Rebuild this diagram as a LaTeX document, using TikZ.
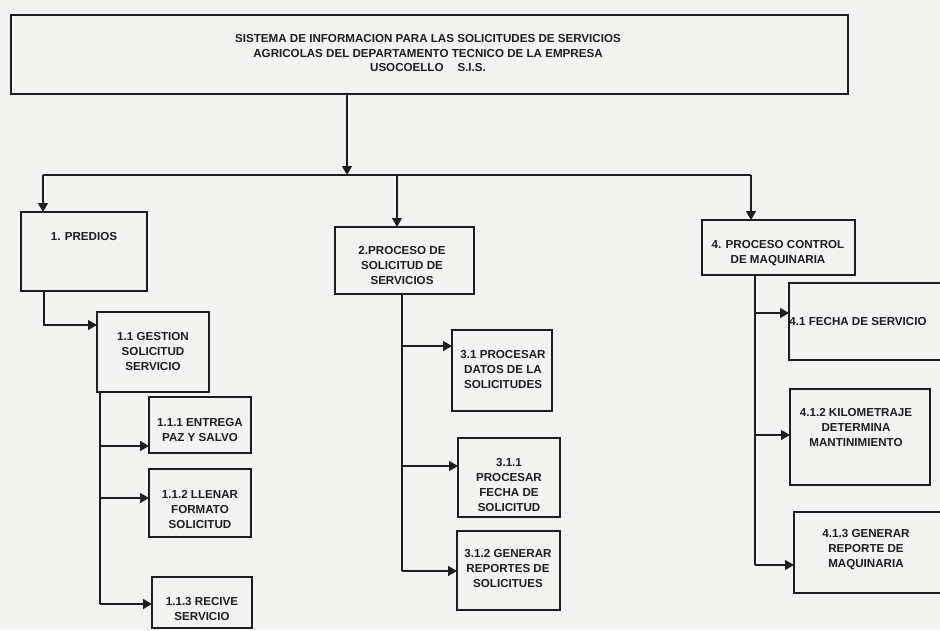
\documentclass[tikz,border=0pt]{standalone}
\usepackage{fontspec}
\setmainfont{Liberation Sans}
\usetikzlibrary{arrows.meta}
\definecolor{paper}{RGB}{243,243,241}
\definecolor{ink}{RGB}{30,30,30}
\tikzset{
  box/.style={draw=ink, line width=1.3pt, inner sep=0pt, outer sep=0pt},
  lbl/.style={text=ink, font=\bfseries\fontsize{11.6}{15}\selectfont, align=center, inner sep=0pt},
  ttl/.style={text=ink, font=\bfseries\fontsize{11.6}{14.5}\selectfont, align=center, inner sep=0pt},
  wire/.style={draw=ink, line width=1.3pt},
  arr/.style={wire, -{Triangle[length=9pt,width=10pt]}}
}
\begin{document}
\begin{tikzpicture}[x=1pt,y=-1pt]
\path[use as bounding box, fill=paper] (0,0) rectangle (940,630);
\clip (0,0) rectangle (940,630);

% boxes
\node[box, anchor=north west, minimum width=837pt, minimum height=79pt] (top) at (11,15) {};
\node[box, anchor=north west, minimum width=126pt, minimum height=79pt] (predios) at (21,212) {};
\node[box, anchor=north west, minimum width=112pt, minimum height=80pt] (g11) at (97,312) {};
\node[box, anchor=north west, minimum width=102pt, minimum height=56pt] (g111) at (149,397) {};
\node[box, anchor=north west, minimum width=102pt, minimum height=68pt] (g112) at (149,469) {};
\node[box, anchor=north west, minimum width=100pt, minimum height=51pt] (g113) at (152,577) {};
\node[box, anchor=north west, minimum width=139pt, minimum height=67pt] (p2) at (335,227) {};
\node[box, anchor=north west, minimum width=100pt, minimum height=81pt] (p31) at (452,330) {};
\node[box, anchor=north west, minimum width=102pt, minimum height=79pt] (p311) at (458,438) {};
\node[box, anchor=north west, minimum width=103pt, minimum height=79pt] (p312) at (457,531) {};
\node[box, anchor=north west, minimum width=153pt, minimum height=55pt] (p4) at (702,220) {};
\node[box, anchor=north west, minimum width=160pt, minimum height=77pt] (p41) at (789,283) {};
\node[box, anchor=north west, minimum width=140pt, minimum height=96pt] (p412) at (790,389) {};
\node[box, anchor=north west, minimum width=160pt, minimum height=81pt] (p413) at (794,512) {};

% texts
\node[ttl] (topt) at (428,53.5) {SISTEMA DE INFORMACION PARA LAS SOLICITUDES DE SERVICIOS\\AGRICOLAS DEL DEPARTAMENTO TECNICO DE LA EMPRESA\\USOCOELLO\hspace{1.2em}S.I.S.};
\node[lbl] (prediost) at (84,236) {1. PREDIOS};
\node[lbl] (g11t) at (153,351) {1.1 GESTION\\SOLICITUD\\SERVICIO};
\node[lbl] (g111t) at (200,429.5) {1.1.1 ENTREGA\\PAZ Y SALVO};
\node[lbl] (g112t) at (200,509) {1.1.2 LLENAR\\FORMATO\\SOLICITUD};
\node[lbl] (g113t) at (202,608.5) {1.1.3 RECIVE\\SERVICIO};
\node[lbl] (p2t) at (402,265.5) {2.PROCESO DE\\SOLICITUD DE\\SERVICIOS};
\node[lbl] (p31t) at (503,369) {3.1 PROCESAR\\DATOS DE LA\\SOLICITUDES};
\node[lbl] (p311t) at (509,484.5) {3.1.1\\PROCESAR\\FECHA DE\\SOLICITUD};
\node[lbl] (p312t) at (508,568.5) {3.1.2 GENERAR\\REPORTES DE\\SOLICITUES};
\node[lbl] (p4t) at (778,253.5) {4. PROCESO CONTROL\\DE MAQUINARIA};
\node[lbl] (p41t) at (858,321) {4.1 FECHA DE SERVICIO};
\node[lbl] (p412t) at (856,427) {4.1.2 KILOMETRAJE\\DETERMINA\\MANTINIMIENTO};
\node[lbl] (p413t) at (866,550) {4.1.3 GENERAR\\REPORTE DE\\MAQUINARIA};

% main bus
\coordinate (bL) at (43,175);
\coordinate (bM) at (347,175);
\coordinate (b2) at (397,175);
\coordinate (bR) at (751,175);
\draw[wire] (bL) -- (bR);
\draw[arr] (bM |- top.south) -- (bM);
\draw[arr] (bL) -- (bL |- predios.north);
\draw[arr] (b2) -- (b2 |- p2.north);
\draw[arr] (bR) -- (bR |- p4.north);

% predios -> 1.1
\coordinate (s1) at (44,325);
\draw[arr] (s1 |- predios.south) -- (s1) -- (s1 -| g11.west);

% 1.1 spine
\coordinate (t1) at (100,604);
\coordinate (a111) at (149,446);
\coordinate (a112) at (149,498);
\coordinate (a113) at (152,604);
\draw[wire] (t1 |- g11.south) -- (t1);
\draw[arr] (a111 -| t1) -- (a111);
\draw[arr] (a112 -| t1) -- (a112);
\draw[arr] (t1) -- (a113);

% 2 spine
\coordinate (t2) at (402,571);
\coordinate (a31) at (452,346);
\coordinate (a311) at (458,466);
\coordinate (a312) at (457,571);
\draw[wire] (t2 |- p2.south) -- (t2);
\draw[arr] (a31 -| t2) -- (a31);
\draw[arr] (a311 -| t2) -- (a311);
\draw[arr] (t2) -- (a312);

% 4 spine
\coordinate (t4) at (755,565);
\coordinate (a41) at (789,313);
\coordinate (a412) at (790,435);
\coordinate (a413) at (794,565);
\draw[wire] (t4 |- p4.south) -- (t4);
\draw[arr] (a41 -| t4) -- (a41);
\draw[arr] (a412 -| t4) -- (a412);
\draw[arr] (t4) -- (a413);
\end{tikzpicture}
\end{document}
